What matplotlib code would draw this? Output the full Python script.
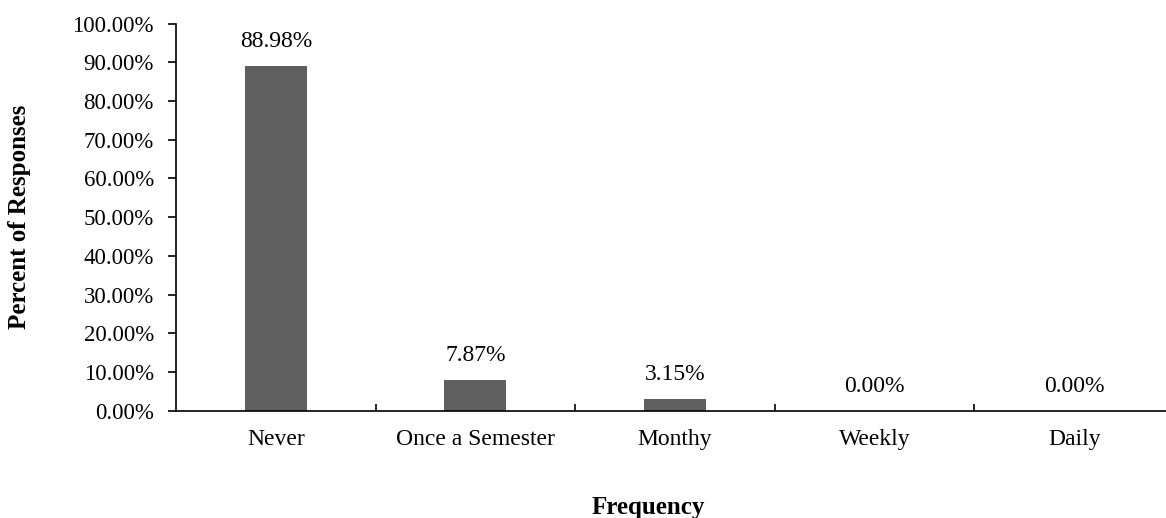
import matplotlib
matplotlib.use("Agg")
import matplotlib.pyplot as plt
from matplotlib.ticker import FixedLocator, PercentFormatter

categories = ["Never", "Once a Semester", "Monthy", "Weekly", "Daily"]
values = [88.98, 7.87, 3.15, 0.00, 0.00]
y_ticks = [0, 10, 20, 30, 40, 50, 60, 70, 80, 90, 100]

plt.rcParams['font.family'] = ['Liberation Serif', 'DejaVu Serif']

fig = plt.figure(figsize=(11.66, 5.18), dpi=100)
ax_l, ax_r, ax_t, ax_b = 176, 1174, 23.5, 410.7
ax = fig.add_axes([ax_l/1166, (518-ax_b)/518, (ax_r-ax_l)/1166, (ax_b-ax_t)/518])

x = list(range(len(categories)))
ax.bar(x, values, width=0.31, color="#5f5f5f")
for xi, v in zip(x, values):
    ax.annotate(f"{v:.2f}%", (xi, v), xytext=(0, 17.5), textcoords="offset points",
                ha="center", va="center", fontsize=17)

ax.set_xlim(-0.5, len(categories) - 0.5)
ax.set_ylim(0, 100)
ax.set_yticks(y_ticks)
ax.yaxis.set_major_formatter(PercentFormatter(decimals=2))
ax.set_xticks(x)
ax.set_xticklabels(categories)
ax.xaxis.set_minor_locator(FixedLocator([i + 0.5 for i in range(len(categories) - 1)]))

ax.tick_params(axis="y", direction="out", length=6, width=1.2, labelsize=16.5, pad=10)
ax.tick_params(axis="x", which="major", length=0, labelsize=17, pad=13)
ax.tick_params(axis="x", which="minor", direction="in", length=5, width=1.2)

for s in ["top", "right"]:
    ax.spines[s].set_visible(False)
for s in ["left", "bottom"]:
    ax.spines[s].set_linewidth(1.2)

ax.set_ylabel("Percent of Responses", fontsize=18, fontweight="bold")
ax.yaxis.set_label_coords(-(176 - 20) / (ax_r - ax_l), 0.5)
ax.yaxis.label.set_va("center")
ax.set_xlabel("Frequency", fontsize=18, fontweight="bold")
ax.xaxis.set_label_coords((648 - ax_l) / (ax_r - ax_l), -(514 - ax_b) / (ax_b - ax_t))
ax.xaxis.label.set_va("baseline")

fig.savefig("out.png", dpi=100)
